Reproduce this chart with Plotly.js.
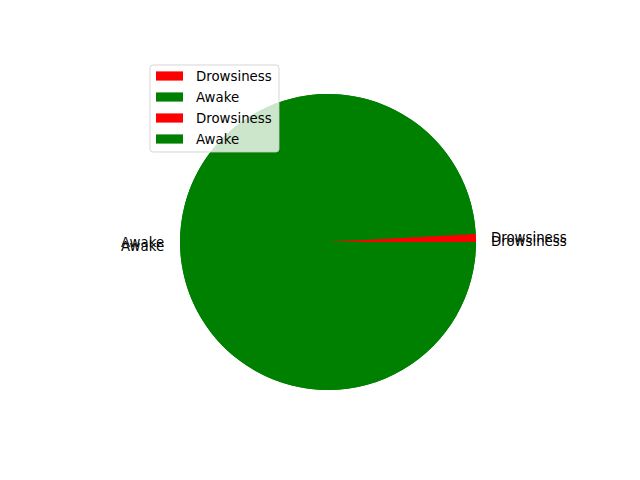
<!DOCTYPE html>
<html>
<head>
<meta charset="utf-8">
<script src="https://cdn.plot.ly/plotly-3.0.1.min.js"></script>
<style>html,body{margin:0;padding:0;background:#fff;}#chart{width:640px;height:480px;}</style>
</head>
<body>
<div id="chart"></div>
<script>
// Data
const sliceLabels = ['Drowsiness', 'Awake'];
const pie1Values = [0.1, 99.9];
const pie2Values = [0.86, 99.14];
const sliceColors = ['red', 'green'];
const legendLabels = ['Drowsiness', 'Awake', 'Drowsiness', 'Awake'];
const legendColors = ['red', 'green', 'red', 'green'];

// Geometry (pixels)
const W = 640, H = 480;
const CX = 328, CY = 238, R = 148; // CY measured from bottom
const px = x => x / W;
const py = y => y / H; // from bottom
const pyTop = y => 1 - y / H; // from top

const domain = {x: [px(CX - R), px(CX + R)], y: [py(CY - R), py(CY + R)]};

// Plotly's counterclockwise mode ends the first slice at 'rotation';
// pass slices in reverse so the first (Drowsiness) starts at 3 o'clock going counterclockwise.
function pieTrace(vals) {
  return {
    type: 'pie', labels: sliceLabels.slice().reverse(), values: vals.slice().reverse(), sort: false,
    direction: 'counterclockwise', rotation: 90,
    marker: {colors: sliceColors.slice().reverse(), line: {width: 0}},
    textinfo: 'none', hoverinfo: 'label+percent', showlegend: false,
    domain: domain
  };
}

// Outside labels computed from the data (matplotlib-style, labeldistance 1.1)
function labelAnnotations(vals) {
  const total = vals.reduce((a, b) => a + b, 0);
  let start = 0;
  const out = [];
  vals.forEach((v, i) => {
    const frac = v / total;
    const mid = (start + frac / 2) * 2 * Math.PI;
    start += frac;
    const c = Math.cos(mid);
    const x = CX + 1.1 * R * c + (c >= 0 ? -2 : 1);
    const y = CY + 1.1 * R * Math.sin(mid);
    out.push({
      x: px(x), y: py(y), xref: 'paper', yref: 'paper',
      text: sliceLabels[i], showarrow: false,
      xanchor: c >= 0 ? 'left' : 'right', yanchor: 'middle',
      font: {family: 'DejaVu Sans', size: 13.33, color: '#000'}
    });
  });
  return out;
}

// Legend (matplotlib-style, drawn manually)
const LX0 = 150, LY0 = 65, LX1 = 279, LY1 = 152, rr = 3;
function roundRectPath(x0, y0, x1, y1, r) {
  const X = v => px(v), Y = v => pyTop(v);
  const rx = r / W, ry = r / H;
  return `M${X(x0)+rx},${Y(y0)} L${X(x1)-rx},${Y(y0)} Q${X(x1)},${Y(y0)} ${X(x1)},${Y(y0)-ry} ` +
         `L${X(x1)},${Y(y1)+ry} Q${X(x1)},${Y(y1)} ${X(x1)-rx},${Y(y1)} ` +
         `L${X(x0)+rx},${Y(y1)} Q${X(x0)},${Y(y1)} ${X(x0)},${Y(y1)+ry} ` +
         `L${X(x0)},${Y(y0)-ry} Q${X(x0)},${Y(y0)} ${X(x0)+rx},${Y(y0)} Z`;
}
const shapes = [{
  type: 'path', xref: 'paper', yref: 'paper', layer: 'above',
  path: roundRectPath(LX0, LY0, LX1, LY1, rr),
  fillcolor: 'rgba(255,255,255,0.8)', line: {color: 'rgba(204,204,204,0.8)', width: 1}
}];
const legendAnn = [];
legendLabels.forEach((lab, i) => {
  const cy = 76 + i * 21;
  shapes.push({
    type: 'rect', xref: 'paper', yref: 'paper', layer: 'above',
    x0: px(156), x1: px(183), y0: pyTop(cy - 4.6), y1: pyTop(cy + 4.6),
    fillcolor: legendColors[i], line: {width: 0}
  });
  legendAnn.push({
    x: px(194), y: pyTop(cy), xref: 'paper', yref: 'paper', text: lab,
    showarrow: false, xanchor: 'left', yanchor: 'middle',
    font: {family: 'DejaVu Sans', size: 13.33, color: '#000'}
  });
});

const data = [pieTrace(pie1Values), pieTrace(pie2Values)];
const layout = {
  width: W, height: H, margin: {l: 0, r: 0, t: 0, b: 0},
  paper_bgcolor: '#fff', plot_bgcolor: '#fff', showlegend: false,
  shapes: shapes,
  annotations: labelAnnotations(pie1Values).concat(labelAnnotations(pie2Values), legendAnn)
};
Plotly.newPlot('chart', data, layout, {displayModeBar: false, staticPlot: true});
</script>
</body>
</html>
